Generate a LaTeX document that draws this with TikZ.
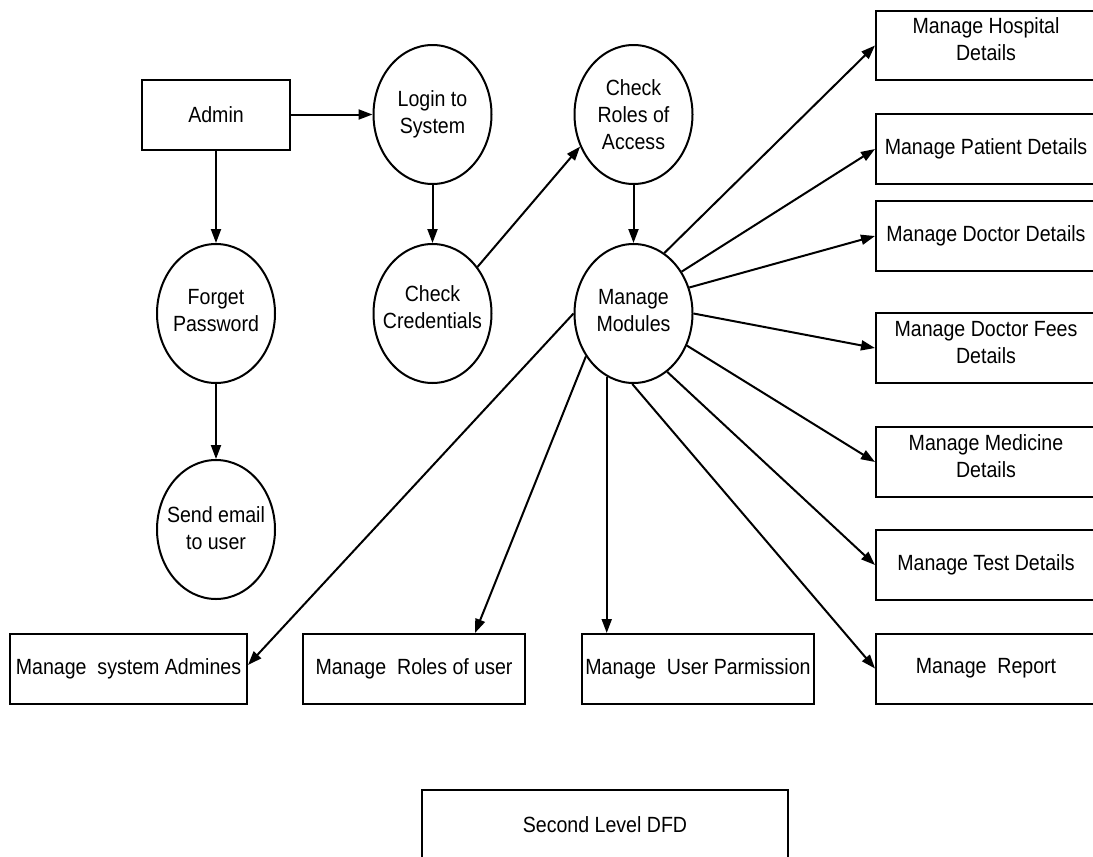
\documentclass[tikz,border=0pt]{standalone}
\usepackage{fontspec}
\setmainfont{Liberation Sans}[FakeStretch=0.89]
\usetikzlibrary{arrows.meta,shapes.geometric}
\begin{document}
\begin{tikzpicture}[x=1pt,y=-1pt,
  every node/.style={font=\fontsize{22}{27}\selectfont},
  proc/.style={ellipse, draw, line width=2pt, minimum width=118pt, minimum height=139pt, inner sep=0pt},
  txt/.style={align=center, inner sep=0pt},
  box/.style={rectangle, draw, line width=2pt, minimum height=70pt, inner sep=0pt, align=center},
  arr/.style={line width=2pt, -{Triangle[length=14pt,width=10pt]}}
]
\useasboundingbox (0,0) rectangle (1093,857);
\fill[white] (0,0) rectangle (1093,857);
\clip (0,0) rectangle (1093,857);

% entities / processes
\node[box, minimum width=148pt] (admin) at (216,114.5) {Admin};
\node[proc] (login) at (432.5,114.5) {};
\node[txt] (logint) at (login) {Login to\\System};
\node[proc] (forget) at (216,313.5) {};
\node[txt] (forgett) at ([yshift=3pt]forget.center) {Forget\\Password};
\node[proc] (send) at (216,529.5) {};
\node[txt] (sendt) at ([yshift=1pt]send.center) {Send email\\to user};
\node[proc] (cred) at (432.5,313.5) {};
\node[txt] (credt) at ([yshift=6pt]cred.center) {Check\\Credentials};
\node[proc] (roles) at (633.5,114.5) {};
\node[txt] (rolest) at (roles) {Check\\Roles of\\Access};
\node[proc] (mm) at (633.5,313.5) {};
\node[txt] (mmt) at ([yshift=3pt]mm.center) {Manage\\Modules};

% right column
\node[box, minimum width=220pt, minimum height=69pt] (hosp) at (986,45.5) {};
\node[txt] (hospt) at ([yshift=6pt]hosp.center) {Manage Hospital\\Details};
\node[box, minimum width=220pt] (pat) at (986,149) {Manage Patient Details};
\node[box, minimum width=220pt] (doc) at (986,236) {Manage Doctor Details};
\node[box, minimum width=220pt] (fees) at (986,348) {};
\node[txt] (feest) at ([yshift=5pt]fees.center) {Manage Doctor Fees\\Details};
\node[box, minimum width=220pt] (med) at (986,462) {};
\node[txt] (medt) at ([yshift=6pt]med.center) {Manage Medicine\\Details};
\node[box, minimum width=220pt] (test) at (986,565) {Manage Test Details};
\node[box, minimum width=220pt] (rep) at (986,668.5) {Manage\ \ Report};

% bottom row
\node[box, minimum width=237pt] (sa) at (128.5,669) {Manage\ \ system Admines};
\node[box, minimum width=222pt] (ru) at (414,669) {Manage\ \ Roles of user};
\node[box, minimum width=232pt] (perm) at (698,669) {Manage\ \ User Parmission};

% caption box
\node[box, minimum width=366pt] (dfd) at (605,825) {Second Level DFD};

% connectors
\draw[arr] (admin.east) -- (login.west);
\draw[arr] (admin.south) -- (forget.north);
\draw[arr] (login.south) -- (cred.north);
\draw[arr] (forget.south) -- (send.north);
\draw[arr] (cred.46) -- (roles.211);
\draw[arr] (roles.south) -- (mm.north);

\draw[arr] (mm.63) -- (hosp.west);
\draw[arr] (mm.41) -- (pat.west);
\draw[arr] (mm.25) -- (doc.west);
\draw[arr] (mm.0) -- (fees.west);
\draw[arr] (mm.-31) -- (med.west);
\draw[arr] (mm.-60) -- (test.west);
\draw[arr] (mm.-91) -- (rep.west);
\draw[arr] (mm.-113) -- (mm.-113 |- perm.north);
\draw[arr] (mm.-138) -- ([xshift=61pt]ru.north);
\draw[arr] (mm.180) -- ([yshift=4pt]sa.east);
\end{tikzpicture}
\end{document}
